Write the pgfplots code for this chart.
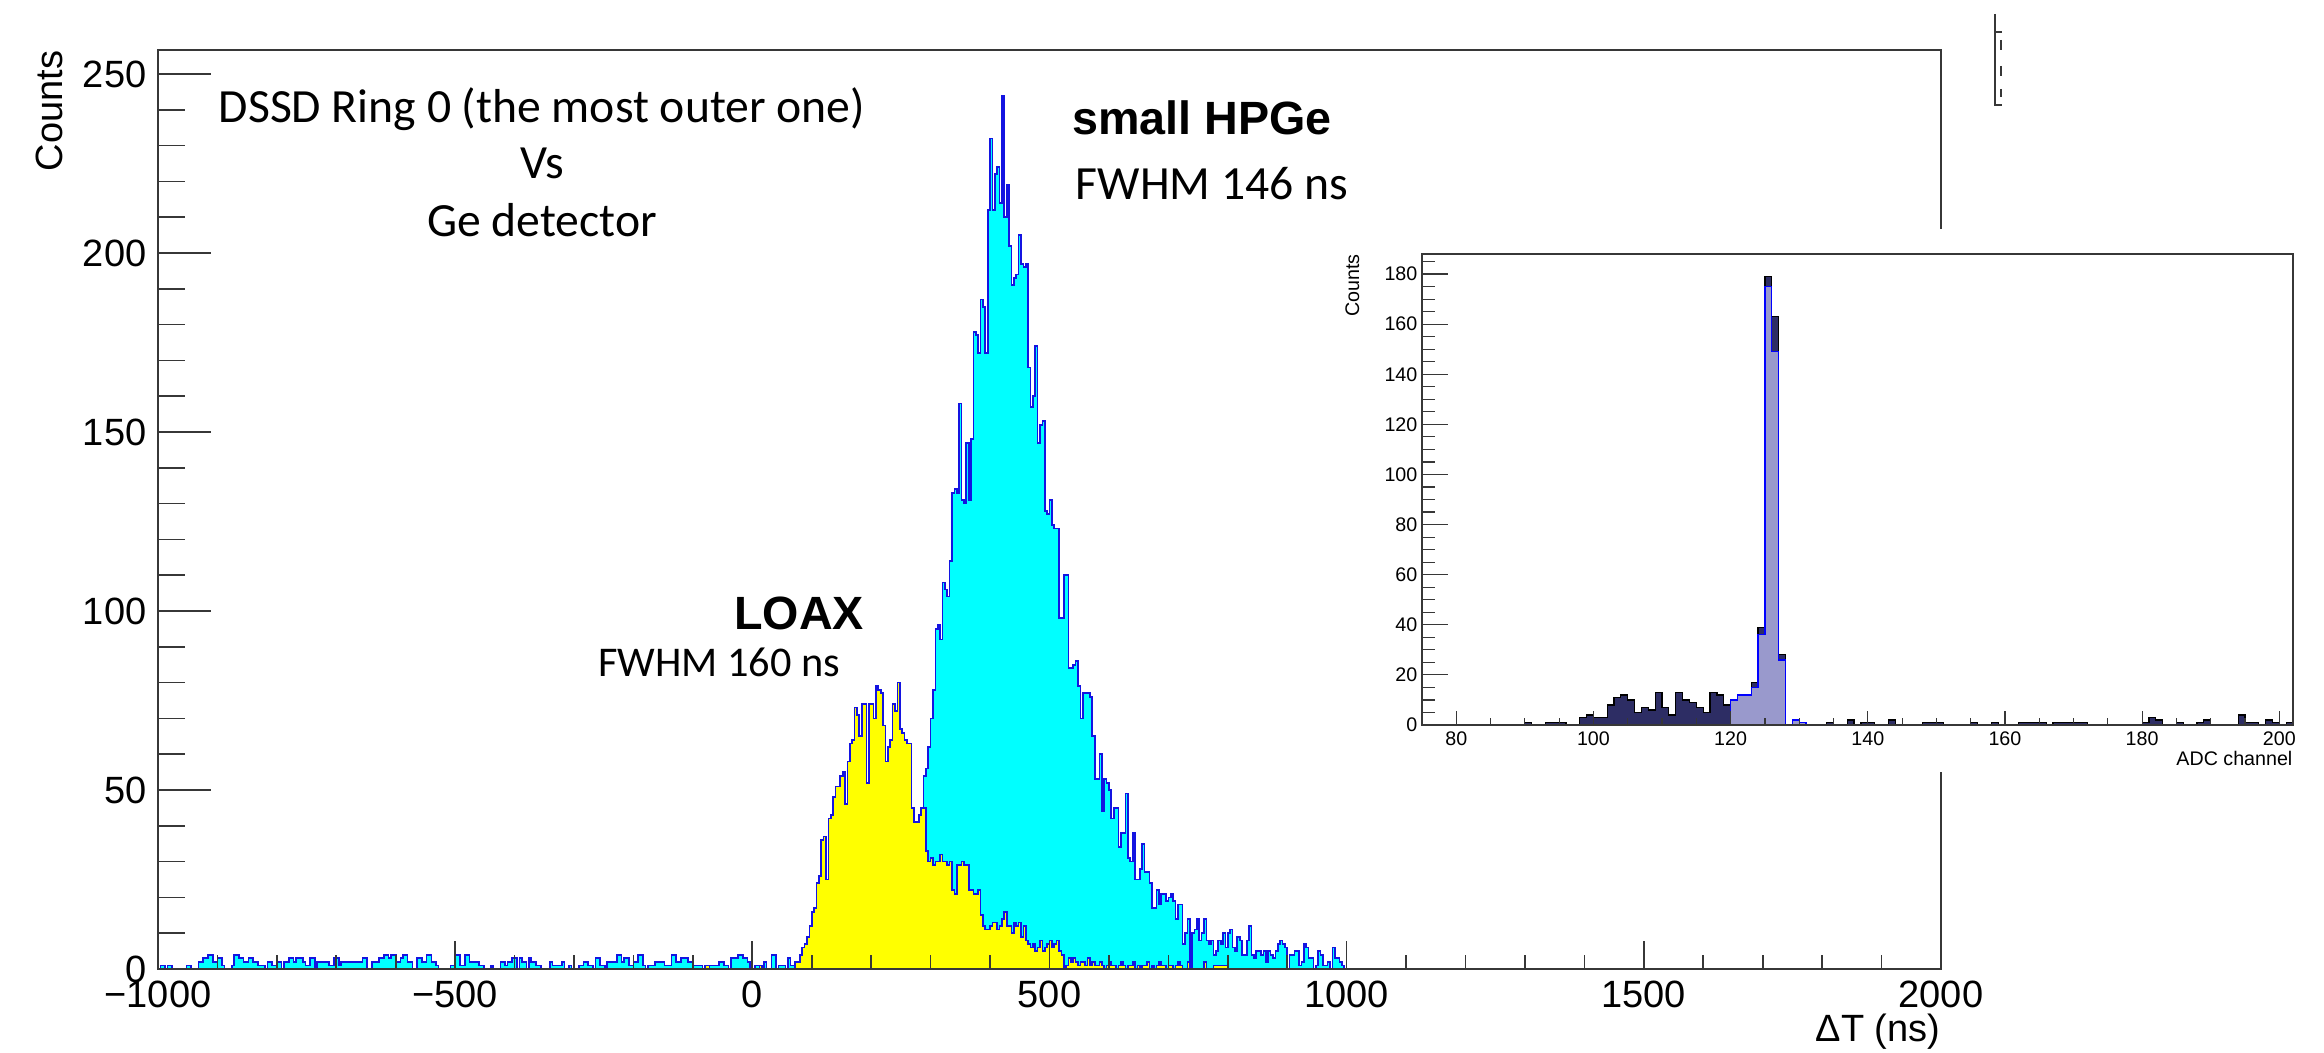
\documentclass[border=0pt]{standalone}
\usepackage{fontspec}
\usepackage{pgfplots}
\pgfplotsset{compat=1.18}
\setmainfont{Liberation Sans}
\newfontfamily\calibri{Carlito}
\newfontfamily\rootfont{Liberation Sans}
\definecolor{histblue}{RGB}{20,20,225}
\definecolor{rootcyan}{RGB}{0,255,255}
\definecolor{rootyellow}{RGB}{255,255,0}
\definecolor{rootblue}{RGB}{0,0,255}
\definecolor{navybar}{RGB}{45,45,100}
\definecolor{lav}{RGB}{153,153,204}
\definecolor{framegray}{RGB}{55,55,55}
\newcommand{\calfont}{\calibri\fontsize{14.3}{14}\selectfont}
\newcommand{\calsmall}{\calibri\fontsize{12.7}{13}\selectfont}
\newcommand{\boldfont}{\rootfont\bfseries\fontsize{14}{14}\selectfont}
\newcommand{\ticfont}{\rootfont\fontsize{11.4}{12}\selectfont}
\newcommand{\smallfont}{\rootfont\fontsize{5.9}{6}\selectfont}
\begin{document}
\begin{tikzpicture}
\useasboundingbox (0,0) rectangle (697.2pt,315.9pt);
% ---------------- main histogram ----------------
\begin{axis}[
  at={(47.4pt,25.2pt)}, anchor=south west,
  scale only axis, width=534.9pt, height=275.7pt,
  xmin=-1000, xmax=2000, ymin=0, ymax=256.7,
  axis on top,
  /pgf/number format/assume math mode=true,
  tick pos=left, tick align=inside,
  axis line style={framegray, line width=0.55pt},
  every tick/.style={framegray, line width=0.5pt},
  xtick={-1000,-500,0,500,1000,1500,2000},
  xticklabels={−1000,−500,0,500,1000,1500,2000},
  minor xtick={-900,-800,...,1900},
  ytick={0,50,100,150,200,250},
  minor ytick={10,20,...,250},
  major tick length=8.3pt, minor tick length=4.15pt,
  ytick style={/pgfplots/major tick length=16pt, /pgfplots/minor tick length=8pt},
  xticklabel style={font=\ticfont, inner sep=0pt, yshift=-3.3pt},
  yticklabel style={font=\ticfont, inner sep=0pt, xshift=-3.3pt},
]
% small HPGe (cyan)
\addplot[const plot, fill=rootcyan, draw=histblue, line width=0.5pt] coordinates {
(-1000,0) (-996,1) (-988,0) (-984,1) (-976,0) (-952,1) (-944,0) (-932,2) (-924,3) (-916,4)
(-908,2) (-900,3) (-892,1) (-888,0) (-876,1) (-872,4) (-864,3) (-856,2) (-848,3) (-840,2)
(-832,1) (-820,0) (-816,2) (-808,1) (-800,2) (-792,0) (-788,2) (-780,3) (-772,2) (-768,3)
(-756,2) (-752,1) (-744,3) (-736,0) (-732,2) (-712,1) (-704,3) (-696,1) (-692,2) (-656,3)
(-648,0) (-640,2) (-628,3) (-620,4) (-612,3) (-608,4) (-600,2) (-592,3) (-588,4) (-580,2)
(-572,0) (-564,3) (-556,2) (-548,4) (-540,2) (-532,1) (-528,0) (-508,1) (-500,4) (-492,1)
(-484,4) (-476,2) (-460,1) (-452,0) (-440,1) (-436,0) (-424,2) (-416,1) (-412,2) (-404,3)
(-396,0) (-392,3) (-388,2) (-380,0) (-376,3) (-372,2) (-364,1) (-356,0) (-340,2) (-336,1)
(-320,2) (-316,0) (-308,1) (-304,0) (-292,1) (-284,2) (-276,1) (-268,0) (-264,3) (-256,1)
(-248,0) (-244,2) (-228,4) (-220,2) (-216,3) (-208,1) (-200,2) (-192,4) (-184,1) (-180,0)
(-176,1) (-164,2) (-148,1) (-136,4) (-128,2) (-120,3) (-108,2) (-100,1) (-84,0) (-80,1)
(-56,2) (-48,1) (-40,0) (-36,3) (-24,4) (-16,3) (-8,2) (-4,0) (4,1) (12,0)
(20,2) (24,0) (32,4) (40,0) (44,1) (56,0) (60,3) (64,1) (80,2) (96,3)
(120,4) (160,5) (200,6) (240,8) (272,10) (284,12) (288,54) (292,56) (296,62) (300,70)
(304,78) (308,95) (312,96) (316,92) (320,108) (324,106) (328,104) (332,114) (336,133) (340,134)
(344,133) (348,158) (352,131) (356,130) (360,147) (364,131) (368,148) (372,178) (376,177) (380,172)
(384,187) (388,185) (392,172) (396,212) (400,232) (404,212) (408,222) (412,224) (416,214) (420,244)
(424,210) (428,219) (432,202) (436,191) (440,193) (444,194) (448,205) (452,197) (456,196) (460,197)
(464,168) (468,157) (472,160) (476,174) (480,147) (484,152) (488,153) (492,128) (496,127) (500,131)
(504,124) (508,123) (512,123) (516,98) (520,98) (524,110) (528,110) (532,84) (536,84) (540,85)
(544,86) (548,79) (552,70) (556,77) (560,77) (564,77) (568,76) (572,65) (576,53) (580,53)
(584,60) (588,44) (592,53) (596,52) (600,50) (604,42) (608,45) (612,45) (616,34) (620,38)
(624,38) (628,49) (632,31) (636,30) (640,38) (644,25) (648,25) (652,28) (656,35) (660,27)
(664,27) (668,24) (672,17) (676,17) (680,22) (684,18) (688,21) (692,21) (696,19) (700,20)
(704,21) (708,19) (712,14) (716,18) (720,18) (724,7) (728,10) (732,14) (736,0) (740,10)
(744,11) (748,14) (752,8) (756,10) (760,14) (764,8) (768,7) (772,8) (776,4) (780,5)
(784,8) (788,7) (792,10) (796,6) (800,10) (804,11) (808,6) (812,5) (816,9) (820,8)
(824,4) (828,4) (832,8) (836,12) (840,4) (844,3) (848,5) (856,4) (860,5) (864,2)
(868,5) (872,4) (876,3) (880,5) (884,7) (888,8) (892,7) (896,6) (900,0) (904,4)
(912,5) (920,1) (924,2) (928,7) (932,6) (936,3) (944,0) (948,1) (952,5) (956,4)
(960,1) (968,2) (972,0) (976,6) (980,3) (988,2) (992,1) (996,0) (1000,0)
} \closedcycle;
% LOAX (yellow)
\addplot[const plot, fill=rootyellow, draw=histblue, line width=0.5pt] coordinates {
(-1000,0) (-80,1) (-72,0) (-4,1) (0,0) (12,1) (16,0) (72,2) (80,4) (84,6)
(88,7) (92,9) (96,12) (100,16) (104,17) (108,24) (112,26) (116,36) (120,37) (124,25)
(128,42) (132,43) (136,48) (140,51) (144,51) (148,54) (152,55) (156,46) (160,58) (164,63)
(168,64) (172,73) (176,71) (180,65) (184,74) (188,74) (192,52) (196,74) (200,74) (204,70)
(208,79) (212,78) (216,77) (220,68) (224,58) (228,62) (232,64) (236,74) (240,72) (244,80)
(248,67) (252,66) (256,64) (260,63) (264,63) (268,45) (272,41) (276,41) (280,43) (284,45)
(288,45) (292,33) (296,30) (300,31) (304,29) (308,30) (312,30) (316,32) (320,30) (324,30)
(328,29) (332,30) (336,22) (340,21) (344,29) (348,29) (352,30) (356,29) (360,29) (364,22)
(368,22) (372,21) (376,21) (380,22) (384,15) (388,12) (392,11) (396,11) (400,12) (404,13)
(408,13) (412,11) (416,12) (420,14) (424,16) (428,12) (432,12) (436,10) (440,13) (444,12)
(448,13) (452,9) (456,12) (460,8) (464,7) (468,6) (472,7) (476,5) (480,6) (484,8)
(488,5) (492,6) (496,7) (500,8) (504,6) (508,7) (512,8) (516,5) (520,4) (524,0)
(528,1) (532,3) (536,2) (540,3) (544,2) (548,1) (552,2) (560,1) (564,3) (568,1)
(572,2) (576,1) (584,2) (588,1) (592,0) (596,1) (600,2) (604,1) (612,0) (616,1)
(620,2) (624,1) (628,0) (632,1) (640,2) (644,0) (648,1) (652,0) (656,1) (664,2)
(668,0) (672,1) (676,0) (680,1) (684,2) (688,1) (696,0) (700,1) (708,0) (712,1)
(716,2) (720,1) (724,0) (732,2) (736,0) (760,2) (764,0) (776,1) (800,0) (1000,0)
} \closedcycle;
\end{axis}
% white pasted inset background
\fill[white] (402pt,84.3pt) rectangle (697.2pt,247.2pt);
% ---------------- inset ----------------
\begin{axis}[
  at={(426.6pt,98.4pt)}, anchor=south west,
  scale only axis, width=261.3pt, height=141.3pt,
  xmin=75, xmax=202, ymin=0, ymax=188,
  axis on top,
  /pgf/number format/assume math mode=true,
  tick pos=left, tick align=inside,
  axis line style={framegray, line width=0.35pt},
  every tick/.style={framegray, line width=0.35pt},
  xtick={80,100,...,200},
  minor xtick={75,80,...,200},
  ytick={0,20,...,180},
  minor ytick={5,10,...,185},
  major tick length=4.2pt, minor tick length=2.1pt,
  ytick style={/pgfplots/major tick length=7.8pt, /pgfplots/minor tick length=3.9pt},
  xticklabel style={font=\smallfont, inner sep=0pt, yshift=-1.8pt},
  yticklabel style={font=\smallfont, inner sep=0pt, xshift=-1.2pt},
]
\addplot[const plot, fill=navybar, draw=black, line width=0.35pt] coordinates {
(75,0) (90,1) (91,0) (93,1) (96,0) (98,3) (99,4) (100,3) (102,8) (103,11)
(104,12) (105,10) (106,5) (107,7) (108,6) (109,13) (110,7) (111,4) (112,13) (113,10)
(114,9) (115,7) (116,5) (117,13) (118,12) (119,8) (120,10) (121,12) (123,17) (124,39)
(125,179) (126,163) (127,28) (128,0) (129,2) (130,1) (131,0) (134,1) (135,0) (137,2)
(138,0) (139,1) (141,0) (143,2) (144,0) (148,1) (151,0) (155,1) (156,0) (158,1)
(159,0) (162,1) (166,0) (167,1) (172,0) (180,1) (181,3) (182,2) (183,0) (185,1)
(186,0) (188,1) (189,2) (190,0) (194,4) (195,1) (197,0) (198,2) (199,1) (200,0)
(201,1) (202,1)
} \closedcycle;
\addplot[const plot, fill=lav, draw=rootblue, line width=0.4pt] coordinates {
(75,0) (120,10) (121,12) (123,15) (124,36) (125,175) (126,149) (127,26) (128,0) (129,2)
(130,1) (131,0) (202,0)
} \closedcycle;
\end{axis}
% ---------------- texts ----------------
\node[font=\calfont, anchor=base, inner sep=0pt] at (162.6pt,279pt) {DSSD Ring 0 (the most outer one)};
\node[font=\calfont, anchor=base, inner sep=0pt] at (162.6pt,262.2pt) {Vs};
\node[font=\calfont, anchor=base, inner sep=0pt] at (162.6pt,244.8pt) {Ge detector};
\node[font=\boldfont, anchor=base, inner sep=0pt] at (360.6pt,275.4pt) {small HPGe};
\node[font=\calfont, anchor=base, inner sep=0pt] at (363.6pt,255.9pt) {FWHM 146 ns};
\node[font=\boldfont, anchor=base, inner sep=0pt] at (239.7pt,126.9pt) {LOAX};
\node[font=\calsmall, anchor=base, inner sep=0pt] at (215.7pt,112.8pt) {FWHM 160 ns};
\node[font=\ticfont, rotate=90, anchor=base east, inner sep=0pt] at (18.6pt,300.9pt) {Counts};
\node[font=\ticfont, anchor=base east, inner sep=0pt] at (582.3pt,3.3pt) {ΔT (ns)};
\node[font=\smallfont, rotate=90, anchor=base east, inner sep=0pt] at (407.7pt,239.7pt) {Counts};
\node[font=\smallfont, anchor=base east, inner sep=0pt] at (687.9pt,86.1pt) {ADC channel};
% fragment of a stats box at the top right
\draw[framegray, line width=0.45pt] (598.5pt,311.7pt) -- (598.5pt,284.4pt) -- (600.6pt,284.4pt);
\draw[framegray, line width=0.45pt] (598.5pt,306.3pt) -- (600.6pt,306.3pt);
\draw[framegray, line width=0.5pt] (600.3pt,303.9pt) -- (600.3pt,300.9pt)
  (600.3pt,296.1pt) -- (600.3pt,293.1pt) (600.3pt,289.2pt) -- (600.3pt,286.8pt);
\end{tikzpicture}
\end{document}
